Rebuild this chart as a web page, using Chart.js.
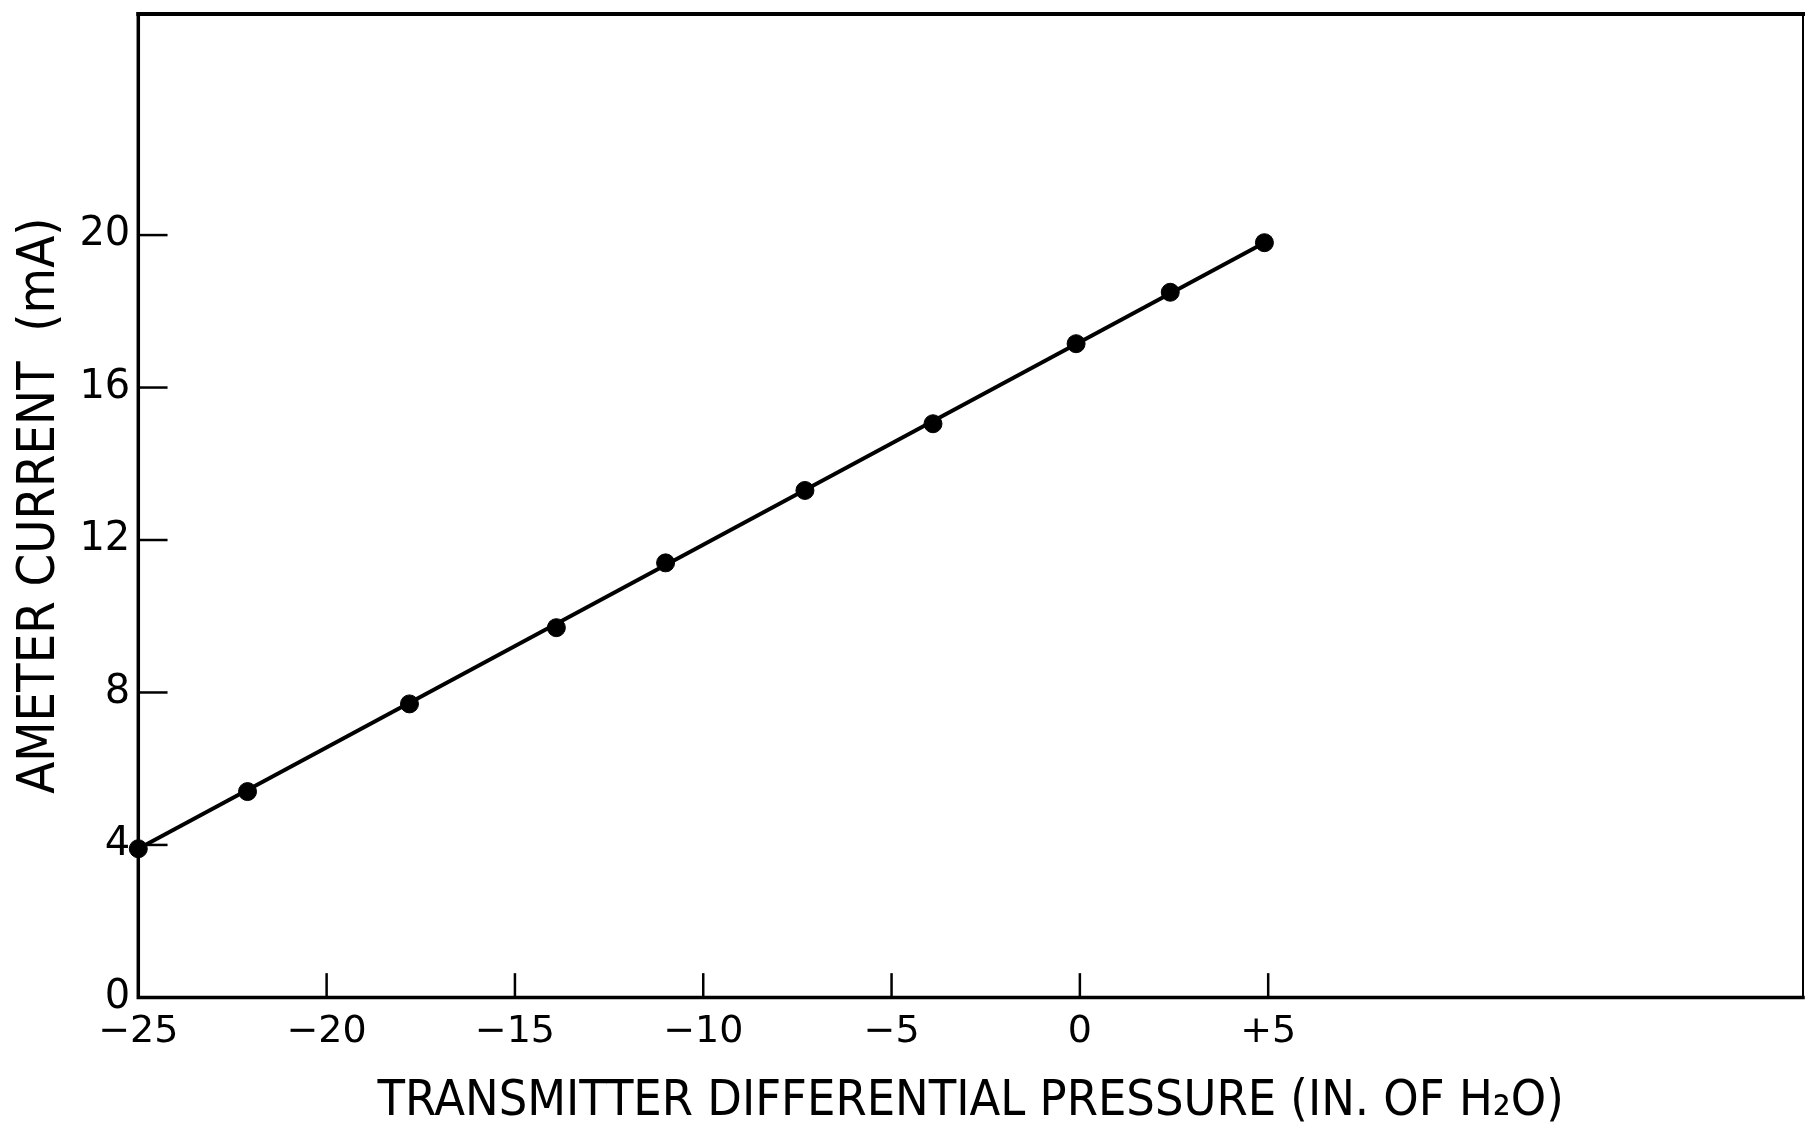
<!DOCTYPE html>
<html>
<head>
<meta charset="utf-8">
<script src="https://cdn.jsdelivr.net/npm/chart.js@4.4.1/dist/chart.umd.min.js"></script>
<style>
  html, body { margin: 0; padding: 0; background: #fff; }
  #wrap { width: 1813px; height: 1132px; }
</style>
</head>
<body>
<div id="wrap"><canvas id="chart" width="1813" height="1132"></canvas></div>
<script>
// Messpunkte
const pressure = [-25, -22.1, -17.8, -13.9, -11.0, -7.3, -3.9, -0.1, 2.4, 4.9];
const current = [3.9, 5.4, 7.7, 9.7, 11.4, 13.3, 15.05, 17.15, 18.5, 19.8];
// Ausgleichsgerade, Endpunkte
const fitX = [-25, 4.9];
const fitY = [3.9, 19.8];
// Achsenbeschriftung
const xTickValues = [-25, -20, -15, -10, -5, 0, 5];
const xTickLabels = ["\u221225", "\u221220", "\u221215", "\u221210", "\u22125", "0", "+5"];
const yTickValues = [0, 4, 8, 12, 16, 20];
const yTickLabels = ["0", "4", "8", "12", "16", "20"];

const toPoints = (xs, ys) => xs.map((x, i) => ({ x: x, y: ys[i] }));

// Rahmen und nach innen zeigende Ticks
const framePlugin = {
  id: "frame",
  beforeDatasetsDraw(chart) {
    const { ctx, chartArea: a, scales } = chart;
    ctx.save();
    ctx.strokeStyle = "#000";
    ctx.lineCap = "square";
    // top
    ctx.lineWidth = 4;
    ctx.beginPath(); ctx.moveTo(a.left, a.top); ctx.lineTo(a.right, a.top); ctx.stroke();
    // right
    ctx.lineWidth = 2;
    ctx.beginPath(); ctx.moveTo(a.right, a.top); ctx.lineTo(a.right, a.bottom); ctx.stroke();
    // left + bottom
    ctx.lineWidth = 3.5;
    ctx.beginPath(); ctx.moveTo(a.left, a.top); ctx.lineTo(a.left, a.bottom); ctx.lineTo(a.right, a.bottom); ctx.stroke();
    // ticks
    ctx.lineWidth = 2.5;
    xTickValues.forEach((v) => {
      const px = scales.x.getPixelForValue(v);
      ctx.beginPath(); ctx.moveTo(px, a.bottom); ctx.lineTo(px, a.bottom - 23); ctx.stroke();
    });
    yTickValues.forEach((v) => {
      const py = scales.y.getPixelForValue(v);
      ctx.beginPath(); ctx.moveTo(a.left, py); ctx.lineTo(a.left + 28, py); ctx.stroke();
    });
    ctx.restore();
  }
};

const ctx = document.getElementById("chart").getContext("2d");
new Chart(ctx, {
  type: "scatter",
  data: {
    datasets: [
      {
        label: "Ausgleich",
        data: toPoints(fitX, fitY),
        showLine: true,
        borderColor: "#000",
        borderWidth: 4,
        pointRadius: 0,
        clip: false
      },
      {
        label: "Messwerte",
        data: toPoints(pressure, current),
        backgroundColor: "#000",
        borderColor: "#000",
        pointRadius: 9,
        clip: false
      }
    ]
  },
  options: {
    responsive: false,
    animation: false,
    layout: { padding: { top: 14, right: 9, bottom: 0, left: 9 } },
    plugins: {
      legend: { display: false },
      tooltip: { enabled: false }
    },
    scales: {
      x: {
        type: "linear",
        min: -25,
        max: 19.2,
        afterBuildTicks: (scale) => { scale.ticks = xTickValues.map((v) => ({ value: v })); },
        ticks: {
          autoSkip: false,
          maxRotation: 0,
          padding: 12,
          color: "#000",
          font: { family: "DejaVu Sans", size: 38 },
          callback: (v) => xTickLabels[xTickValues.indexOf(v)]
        },
        grid: { display: false, drawTicks: false },
        border: { display: false },
        title: {
          display: true,
          text: "TRANSMITTER DIFFERENTIAL PRESSURE (IN. OF H\u2082O)",
          color: "#000",
          font: { family: "DejaVu Sans Condensed", size: 50 },
          padding: { top: 5, bottom: 0 }
        }
      },
      y: {
        type: "linear",
        min: 0,
        max: 25.8,
        afterBuildTicks: (scale) => { scale.ticks = yTickValues.map((v) => ({ value: v })); },
        afterFit: (scale) => { scale.paddingTop = 0; },
        ticks: {
          autoSkip: false,
          padding: 8,
          color: "#000",
          font: { family: "DejaVu Sans", size: 40 },
          callback: (v) => yTickLabels[yTickValues.indexOf(v)]
        },
        grid: { display: false, drawTicks: false },
        border: { display: false },
        title: {
          display: true,
          text: "AMETER CURRENT  (mA)",
          color: "#000",
          font: { family: "DejaVu Sans Condensed", size: 52 },
          padding: { top: 0, bottom: 0 }
        }
      }
    }
  },
  plugins: [framePlugin]
});
</script>
</body>
</html>
